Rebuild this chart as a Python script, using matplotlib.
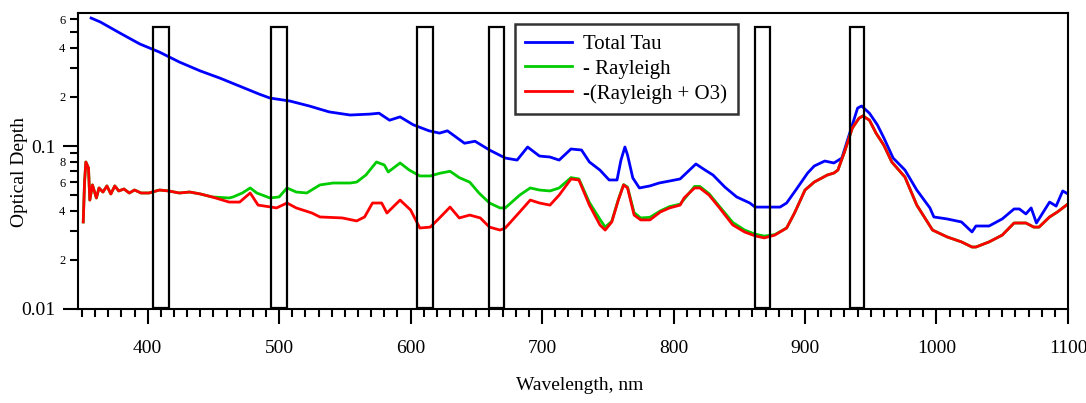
import matplotlib
matplotlib.use("Agg")
import matplotlib.pyplot as plt
from matplotlib.patches import Rectangle
from matplotlib.ticker import FixedLocator, FixedFormatter

plt.rcParams['font.family'] = ['Liberation Serif', 'DejaVu Serif']

# total optical depth
blue_wl = [357, 364, 379, 394, 409, 424, 440, 455, 470, 485, 493, 508, 523, 538, 554,
           569, 576, 584, 592, 602, 614, 622, 628, 641, 649, 660, 672, 681, 689, 698,
           706, 713, 722, 730, 736, 744, 751, 757, 760, 763, 765, 769, 774, 782, 789,
           797, 805, 817, 824, 830, 839, 848, 858, 862, 881, 886, 893, 902, 907, 915,
           922, 928, 934, 940, 943, 949, 955, 960, 967, 976, 985, 995, 998, 1008, 1019,
           1027, 1030, 1040, 1050, 1059, 1063, 1068, 1072, 1076, 1086, 1091, 1096, 1100]
blue_tau = [0.610, 0.577, 0.493, 0.423, 0.377, 0.328, 0.289, 0.261, 0.233, 0.208, 0.197,
            0.189, 0.176, 0.162, 0.155, 0.157, 0.159, 0.144, 0.151, 0.135, 0.124, 0.120,
            0.124, 0.104, 0.107, 0.0945, 0.0844, 0.0820, 0.0986, 0.0868, 0.0856, 0.0820,
            0.0959, 0.0945, 0.0798, 0.0712, 0.0619, 0.0619, 0.0820, 0.0986, 0.0881,
            0.0637, 0.0553, 0.0569, 0.0593, 0.0610, 0.0628, 0.0776, 0.0712, 0.0664,
            0.0560, 0.0487, 0.0447, 0.0422, 0.0422, 0.0447, 0.0537, 0.0683, 0.0754,
            0.0809, 0.0787, 0.0844, 0.120, 0.171, 0.176, 0.159, 0.135, 0.112, 0.0844,
            0.0712, 0.0537, 0.0417, 0.0367, 0.0357, 0.0342, 0.0297, 0.0323, 0.0323,
            0.0357, 0.0411, 0.0411, 0.0383, 0.0417, 0.0337, 0.0453, 0.0428, 0.0530, 0.0508]

# minus Rayleigh and ozone
red_wl = [351, 352, 353, 355, 356, 358, 361, 363, 366, 369, 372, 375, 378, 382, 386,
          390, 395, 401, 409, 416, 424, 432, 440, 449, 462, 470, 478, 484, 494, 498,
          506, 513, 525, 531, 548, 559, 565, 571, 578, 582, 592, 600, 607, 615, 622,
          630, 637, 645, 653, 660, 668, 672, 683, 691, 698, 706, 713, 722, 728, 736,
          744, 748, 753, 758, 762, 765, 770, 775, 782, 790, 797, 805, 808, 816, 820,
          827, 835, 845, 854, 862, 869, 877, 886, 892, 900, 907, 917, 922, 925, 930,
          936, 941, 944, 949, 954, 960, 966, 976, 985, 997, 1008, 1019, 1027, 1030,
          1040, 1050, 1059, 1068, 1074, 1078, 1086, 1092, 1100]
red_tau = [0.0342, 0.0601, 0.0798, 0.0733, 0.0466, 0.0577, 0.0480, 0.0553, 0.0522,
           0.0569, 0.0508, 0.0569, 0.0530, 0.0545, 0.0515, 0.0537, 0.0515, 0.0515,
           0.0537, 0.0530, 0.0515, 0.0522, 0.0508, 0.0487, 0.0453, 0.0453, 0.0515,
           0.0434, 0.0422, 0.0417, 0.0447, 0.0417, 0.0388, 0.0367, 0.0362, 0.0347,
           0.0367, 0.0447, 0.0447, 0.0388, 0.0466, 0.0405, 0.0314, 0.0318, 0.0362,
           0.0422, 0.0362, 0.0377, 0.0362, 0.0318, 0.0305, 0.0314, 0.0394, 0.0466,
           0.0447, 0.0434, 0.0500, 0.0628, 0.0619, 0.0434, 0.0328, 0.0305, 0.0342,
           0.0466, 0.0577, 0.0553, 0.0377, 0.0352, 0.0352, 0.0394, 0.0417, 0.0434,
           0.0480, 0.0553, 0.0553, 0.0500, 0.0417, 0.0328, 0.0297, 0.0281, 0.0273,
           0.0284, 0.0314, 0.0388, 0.0537, 0.0601, 0.0664, 0.0683, 0.0712, 0.0919,
           0.129, 0.148, 0.153, 0.144, 0.120, 0.101, 0.0798, 0.0645, 0.0434, 0.0305,
           0.0277, 0.0258, 0.0240, 0.0240, 0.0258, 0.0284, 0.0337, 0.0337, 0.0318,
           0.0318, 0.0367, 0.0394, 0.0441]

# minus Rayleigh: same as red below 450 nm and above 880 nm
green_mid_wl = [462, 465, 472, 478, 483, 493, 500, 506, 513, 521, 531, 541, 554, 559,
                566, 574, 580, 583, 592, 599, 607, 615, 622, 630, 637, 645, 652, 660,
                668, 672, 683, 691, 698, 706, 713, 722, 728, 736, 744, 748, 753, 758,
                762, 765, 770, 775, 782, 790, 797, 805, 816, 820, 827, 835, 845, 854,
                862, 869, 877]
green_mid_tau = [0.0480, 0.0487, 0.0515, 0.0553, 0.0515, 0.0480, 0.0487, 0.0553, 0.0522,
                 0.0515, 0.0577, 0.0593, 0.0593, 0.0601, 0.0664, 0.0798, 0.0765, 0.0693,
                 0.0787, 0.0712, 0.0655, 0.0655, 0.0680, 0.0700, 0.0640, 0.0600, 0.0515,
                 0.0447, 0.0417, 0.0417, 0.0500, 0.0553, 0.0537, 0.0530, 0.0553, 0.0640,
                 0.0628, 0.0450, 0.0355, 0.0318, 0.0345, 0.0470, 0.0580, 0.0560, 0.0390,
                 0.0362, 0.0365, 0.0400, 0.0425, 0.0440, 0.0565, 0.0565, 0.0510, 0.0425,
                 0.0340, 0.0305, 0.0288, 0.0280, 0.0286]
k_head = red_wl.index(449) + 1
k_tail = red_wl.index(886)
green_wl = red_wl[:k_head] + green_mid_wl + red_wl[k_tail:]
green_tau = red_tau[:k_head] + green_mid_tau + red_tau[k_tail:]

# filter bands (nm)
band_lo = [404, 494, 605, 660, 862, 934]
band_hi = [416, 506, 617, 671, 873, 945]
band_top = 0.54
band_bot = 0.0101

fig = plt.figure(figsize=(10.86, 4.03), dpi=100)
ax = fig.add_axes([0.0718, 0.2333, 0.9116, 0.7344])

ax.plot(blue_wl, blue_tau, color='#0000ff', lw=2.0, label='Total Tau')
ax.plot(green_wl, green_tau, color='#00cc00', lw=2.0, label='- Rayleigh')
ax.plot(red_wl, red_tau, color='#ff0000', lw=2.0, label='-(Rayleigh + O3)')

for lo, hi in zip(band_lo, band_hi):
    ax.add_patch(Rectangle((lo, band_bot), hi - lo, band_top - band_bot,
                           fill=False, edgecolor='black', lw=1.6, zorder=3))

ax.set_yscale('log')
ax.set_ylim(0.01, 0.655)
ax.set_xlim(347, 1100)

ax.xaxis.set_major_locator(FixedLocator(range(400, 1101, 100)))
ax.xaxis.set_minor_locator(FixedLocator(range(350, 1101, 10)))
ax.yaxis.set_major_locator(FixedLocator([0.01, 0.1]))
ax.yaxis.set_major_formatter(FixedFormatter(['0.01', '0.1']))
minor_y = [0.02, 0.03, 0.04, 0.05, 0.06, 0.07, 0.08, 0.09,
           0.2, 0.3, 0.4, 0.5, 0.6]
minor_lab = ['2', '', '4', '', '6', '', '8', '', '2', '', '4', '', '6']
ax.yaxis.set_minor_locator(FixedLocator(minor_y))
ax.yaxis.set_minor_formatter(FixedFormatter(minor_lab))

ax.tick_params(axis='x', which='major', length=11, width=1.5, labelsize=14, pad=11)
ax.tick_params(axis='x', which='minor', length=6, width=1.5)
ax.tick_params(axis='y', which='major', length=11, width=1.5, labelsize=14, pad=5)
ax.tick_params(axis='y', which='minor', length=6, width=1.5, labelsize=9, pad=3)

for s in ax.spines.values():
    s.set_linewidth(1.5)

ax.set_xlabel('Wavelength, nm', fontsize=14)
ax.set_ylabel('Optical Depth', fontsize=14)
ax.xaxis.set_label_coords(0.507, -0.23)
ax.yaxis.set_label_coords(-0.0505, 0.463)

leg = ax.legend(loc='upper left', bbox_to_anchor=(0.441, 0.963), fontsize=15,
                frameon=True, fancybox=False, edgecolor='black', handlelength=2.25,
                labelspacing=0.25, borderpad=0.5, handletextpad=0.55, borderaxespad=0)
leg.get_frame().set_linewidth(1.8)
leg.set_zorder(5)

fig.savefig('out.png', dpi=100)
